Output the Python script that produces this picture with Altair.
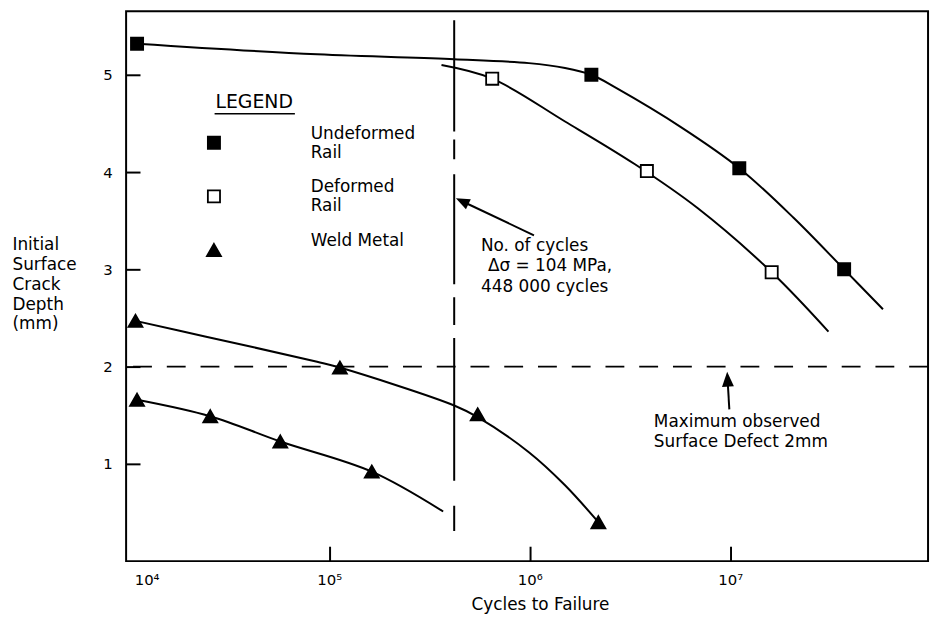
import altair as alt
import pandas as pd

FONT = "DejaVu Sans"

# ---------------- data ----------------
series_names = ["Undeformed Rail", "Deformed Rail", "Weld Metal"]

und_x = [1.1e4, 2.03e6, 1.11e7, 3.7e7]
und_y = [5.32, 5.00, 4.04, 3.00]
def_x = [6.5e5, 3.84e6, 1.61e7]
def_y = [4.96, 4.01, 2.97]
weld_x = [1.08e4, 1.13e5, 5.5e5, 2.2e6, 1.1e4, 2.55e4, 5.7e4, 1.63e5]
weld_y = [2.47, 1.99, 1.51, 0.40, 1.66, 1.49, 1.23, 0.92]

# fitted curves
cu_und_x = [1.1e4, 8.7e4, 4.2e5, 9.9e5, 1.5e6, 2.03e6, 2.67e6, 5.7e6, 1.11e7,
            2.07e7, 3.7e7, 5.78e7]
cu_und_y = [5.32, 5.21, 5.16, 5.12, 5.07, 5.00, 4.87, 4.46, 4.04,
            3.53, 3.00, 2.59]
cu_def_x = [3.63e5, 6.5e5, 1.5e6, 3.35e6, 6.87e6, 1.61e7, 3.09e7]
cu_def_y = [5.10, 4.96, 4.52, 4.08, 3.63, 2.97, 2.36]
cu_wu_x = [1.08e4, 2.4e4, 8.7e4, 1.13e5, 4.2e5, 5.5e5, 9.9e5, 1.5e6, 2.2e6]
cu_wu_y = [2.47, 2.31, 2.05, 1.99, 1.60, 1.48, 1.12, 0.78, 0.40]
cu_wl_x = [1.1e4, 2.55e4, 5.7e4, 1.63e5, 3.7e5]
cu_wl_y = [1.66, 1.49, 1.23, 0.92, 0.51]

# reference lines
vline_x = 4.2e5            # 448 000 cycles line
vline_top = 5.56
vline_bottom = 0.31
hline_y = 2.0              # maximum observed surface defect

# annotations
note_text = ["No. of cycles", "\u0394\u03c3 = 104 MPa,", "448 000 cycles",
             "Maximum observed", "Surface Defect 2mm"]
note_x = [5.71e5, 6.19e5, 5.71e5, 4.16e6, 4.16e6]
note_y = [3.235, 3.03, 2.82, 1.43, 1.22]

arrow_id = ["a", "a", "b", "b"]
arrow_x = [1.05e6, 4.6e5, 9.9e6, 9.7e6]
arrow_y = [3.35, 3.70, 1.56, 1.87]

# underline of the legend heading
legend_rule_x = [2.68e4, 6.74e4]
legend_rule_y = 4.60

# axes
x_tick_values = [1e4, 1e5, 1e6, 1e7]
x_tick_labels = ["10\u2074", "10\u2075", "10\u2076", "10\u2077"]
x_inner_ticks = [1e5, 1e6, 1e7]
y_tick_values = [1, 2, 3, 4, 5]
y_title = ["Initial", "Surface", "Crack", "Depth", "(mm)"]
x_title = "Cycles to Failure"
legend_title = "LEGEND"

# ---------------- tables ----------------
pts = pd.DataFrame({
    "x": und_x + def_x + weld_x,
    "y": und_y + def_y + weld_y,
    "series": [series_names[0]] * len(und_x) + [series_names[1]] * len(def_x)
              + [series_names[2]] * len(weld_x),
})
curves = pd.DataFrame({
    "x": cu_und_x + cu_def_x + cu_wu_x + cu_wl_x,
    "y": cu_und_y + cu_def_y + cu_wu_y + cu_wl_y,
    "curve": ["und"] * len(cu_und_x) + ["def"] * len(cu_def_x)
             + ["wu"] * len(cu_wu_x) + ["wl"] * len(cu_wl_x),
})
notes = pd.DataFrame({"x": note_x, "y": note_y, "text": note_text})
arrows = pd.DataFrame({"x": arrow_x, "y": arrow_y, "id": arrow_id})
heads = pd.DataFrame({"x": [arrow_x[1], arrow_x[3]], "y": [arrow_y[1], arrow_y[3]],
                      "id": ["a", "b"]})
vline = pd.DataFrame({"x": [vline_x], "y": [vline_top], "y2": [vline_bottom]})
hline = pd.DataFrame({"y": [hline_y]})
uline = pd.DataFrame({"x": [legend_rule_x[0]], "x2": [legend_rule_x[1]], "y": [legend_rule_y]})

xscale = alt.Scale(type="log", domain=[9700, 9.7e7], nice=False)
yscale = alt.Scale(domain=[0, 5.653], nice=False, zero=False)

label_expr = ""
for v, l in zip(x_tick_values, x_tick_labels):
    label_expr += f"datum.value == {int(v)} ? '{l}' : "
label_expr += "''"

x_axis_main = alt.Axis(
    values=x_tick_values, labelExpr=label_expr, ticks=False, tickSize=0, domain=False,
    grid=False, labelFont=FONT, labelFontSize=15, labelColor="black", labelPadding=12,
    labelFlush=False, labelOverlap=False,
    labelOffset={"condition": {"test": "datum.value < 20000", "value": 18}, "value": 0},
    title=x_title, titleFont=FONT, titleFontSize=17, titleFontWeight="normal",
    titleColor="black", titleX=417, titleY=44, titleAlign="center", titleBaseline="middle",
)
y_axis_main = alt.Axis(
    values=y_tick_values, ticks=False, tickSize=0, domain=False, grid=False,
    labelFont=FONT, labelFontSize=15, labelColor="black", labelPadding=14,
    title=y_title, titleAngle=0, titleAlign="left", titleBaseline="top",
    titleX=-115, titleY=227, titleLineHeight=20, titleFont=FONT, titleFontSize=17,
    titleFontWeight="normal", titleColor="black",
)
x_axis_ticks = alt.Axis(orient="top", offset=-554, values=x_inner_ticks, labels=False,
                        domain=False, grid=False, tickSize=15, tickWidth=2,
                        tickColor="black", title=None)
y_axis_ticks = alt.Axis(orient="right", offset=-808, values=y_tick_values, labels=False,
                        domain=False, grid=False, tickSize=14, tickWidth=2,
                        tickColor="black", title=None)

legend = alt.Legend(
    title=legend_title, orient="none", legendX=90, legendY=82, direction="vertical",
    padding=0, titleFont=FONT, titleFontSize=19, titleFontWeight="normal",
    titleColor="black", titlePadding=23, labelFont=FONT, labelFontSize=17,
    labelColor="black", labelOffset=89, labelBaseline="bottom", rowPadding=17,
    symbolSize=150, symbolStrokeWidth=1.8, symbolStrokeColor="black", symbolOpacity=1,
    symbolOffset=-10, labelLimit=300,
    labelExpr="datum.label == 'Weld Metal' ? datum.label : split(datum.label, ' ')",
)

tri_shape = "M0,-1L1.15,1L-1.15,1Z"
head_shape = "M0,-1L0.8,1L-0.8,1Z"

curve_layer = alt.Chart(curves).mark_line(
    color="black", strokeWidth=2, interpolate="catmull-rom"
).encode(
    x=alt.X("x:Q", scale=xscale, axis=x_axis_main),
    y=alt.Y("y:Q", scale=yscale, axis=y_axis_main),
    detail="curve:N",
)

vline_layer = alt.Chart(vline).mark_rule(
    color="black", strokeWidth=2,
    strokeDash=[112, 8, 20, 15, 111, 13, 28, 13, 144, 25, 26, 10],
).encode(
    x=alt.X("x:Q", scale=xscale, axis=None),
    y=alt.Y("y:Q", scale=yscale, axis=None),
    y2="y2:Q",
)

hline_layer = alt.Chart(hline).mark_rule(
    color="black", strokeWidth=1.8, strokeDash=[19, 15]
).encode(y=alt.Y("y:Q", scale=yscale, axis=None))

uline_layer = alt.Chart(uline).mark_rule(color="black", strokeWidth=1.6).encode(
    x=alt.X("x:Q", scale=xscale, axis=None),
    x2="x2:Q",
    y=alt.Y("y:Q", scale=yscale, axis=None),
)

arrow_layer = alt.Chart(arrows).mark_line(color="black", strokeWidth=2).encode(
    x=alt.X("x:Q", scale=xscale, axis=None),
    y=alt.Y("y:Q", scale=yscale, axis=None),
    detail="id:N",
)

head_a = alt.Chart(heads).transform_filter("datum.id == 'a'").mark_point(
    shape=head_shape, filled=True, color="black", opacity=1, size=196, angle=296
).encode(x=alt.X("x:Q", scale=xscale, axis=None), y=alt.Y("y:Q", scale=yscale, axis=None))
head_b = alt.Chart(heads).transform_filter("datum.id == 'b'").mark_point(
    shape=head_shape, filled=True, color="black", opacity=1, size=225, angle=357
).encode(x=alt.X("x:Q", scale=xscale, axis=None), y=alt.Y("y:Q", scale=yscale, axis=None))

points_layer = alt.Chart(pts).mark_point(
    strokeWidth=1.8, opacity=1, fillOpacity=1, size=150
).encode(
    x=alt.X("x:Q", scale=xscale, axis=x_axis_ticks),
    y=alt.Y("y:Q", scale=yscale, axis=y_axis_ticks),
    shape=alt.Shape("series:N", scale=alt.Scale(domain=series_names,
                    range=["square", "square", tri_shape]), legend=legend),
    fill=alt.Fill("series:N", scale=alt.Scale(domain=series_names,
                  range=["black", "white", "black"]), legend=legend),
    stroke=alt.Stroke("series:N", scale=alt.Scale(domain=series_names,
                      range=["black", "black", "black"]), legend=legend),
)

text_layer = alt.Chart(notes).mark_text(
    align="left", baseline="middle", font=FONT, fontSize=17, color="black"
).encode(
    x=alt.X("x:Q", scale=xscale, axis=None),
    y=alt.Y("y:Q", scale=yscale, axis=None),
    text="text:N",
)

chart = alt.layer(
    curve_layer, vline_layer, hline_layer, uline_layer, arrow_layer, head_a, head_b,
    text_layer, points_layer,
).resolve_axis(x="independent", y="independent").properties(
    width=808, height=554,
    autosize=alt.AutoSizeParams(type="none"),
    padding={"left": 119, "top": 1, "right": 6, "bottom": 54},
    background="white",
).configure(font=FONT).configure_view(stroke="black", strokeWidth=2)

chart.save("out.html", embed_options={"renderer": "svg", "actions": False})
